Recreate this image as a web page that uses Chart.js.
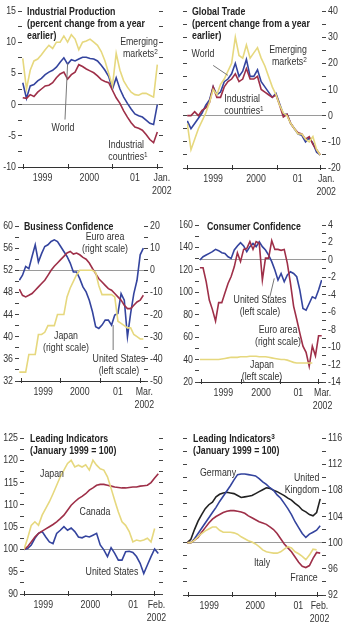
<!DOCTYPE html>
<html>
<head>
<meta charset="utf-8">
<script src="https://cdn.jsdelivr.net/npm/chart.js@4.4.1/dist/chart.umd.min.js"></script>
<style>
  body { margin: 0; width: 361px; height: 625px; position: relative; overflow: hidden; background: #fff;
         font-family: "Liberation Sans", Arial, sans-serif; color: #333; }
  canvas { position: absolute; }
  .title { position: absolute; font-weight: bold; font-size: 11px; line-height: 12px; color: #222; white-space: nowrap;
           transform: scaleX(0.8); transform-origin: left top; }
  .lbl { position: absolute; font-size: 11px; line-height: 12px; white-space: nowrap; text-align: center;
         transform: translate(-50%, -50%) scaleX(0.8); }
  .r { text-align: right; }
  .l { text-align: left; }
  sup { font-size: 8px; line-height: 0; vertical-align: 3px; }
</style>
</head>
<body>
<canvas id="ip" width="180" height="200" style="left:0;top:0"></canvas>
<canvas id="trade" width="181" height="200" style="left:180px;top:0"></canvas>
<canvas id="bc" width="180" height="215" style="left:0;top:200px"></canvas>
<canvas id="cc" width="181" height="215" style="left:180px;top:200px"></canvas>
<canvas id="li1" width="180" height="220" style="left:0;top:405px"></canvas>
<canvas id="li2" width="181" height="220" style="left:180px;top:405px"></canvas>

<div class="title" style="left:27px;top:5px">Industrial Production<br>(percent change from a year<br>earlier)</div>
<div class="title" style="left:192px;top:5px">Global Trade<br>(percent change from a year<br>earlier)</div>
<div class="title" style="left:24px;top:220px">Business Confidence</div>
<div class="title" style="left:207px;top:220px">Consumer Confidence</div>
<div class="title" style="left:30px;top:432px">Leading Indicators<br>(January 1999 = 100)</div>
<div class="title" style="left:193px;top:432px">Leading Indicators<sup>3</sup><br>(January 1999 = 100)</div>

<div class="lbl" style="left:63px;top:127px">World</div>
<div class="lbl r" style="left:139px;top:47px">Emerging<br>markets<sup>2</sup></div>
<div class="lbl l" style="left:128px;top:150px">Industrial<br>countries<sup>1</sup></div>

<div class="lbl" style="left:203px;top:53px">World</div>
<div class="lbl r" style="left:288px;top:55px">Emerging<br>markets<sup>2</sup></div>
<div class="lbl l" style="left:244px;top:104px">Industrial<br>countries<sup>1</sup></div>

<div class="lbl" style="left:105px;top:242px">Euro area<br>(right scale)</div>
<div class="lbl" style="left:66px;top:341px">Japan<br>(right scale)</div>
<div class="lbl" style="left:119px;top:364px">United States<br>(left scale)</div>

<div class="lbl" style="left:260px;top:305px">United States<br>(left scale)</div>
<div class="lbl" style="left:278px;top:335px">Euro area<br>(right scale)</div>
<div class="lbl" style="left:262px;top:370px">Japan<br>(left scale)</div>

<div class="lbl" style="left:52px;top:473px">Japan</div>
<div class="lbl" style="left:95px;top:511px">Canada</div>
<div class="lbl" style="left:112px;top:571px">United States</div>

<div class="lbl" style="left:218px;top:472px">Germany</div>
<div class="lbl r" style="left:302px;top:483px">United<br>Kingdom</div>
<div class="lbl" style="left:262px;top:562px">Italy</div>
<div class="lbl" style="left:304px;top:577px">France</div>

<script>
// monthly series, index 0 = first month shown
const xLabelsJan = ['1999', '2000', '01', ['Jan.', '2002']];
const xLabelsMar = ['1999', '2000', '01', ['Mar.', '2002']];
const xLabelsFeb = ['1999', '2000', '01', ['Feb.', '2002']];

// Industrial production, % change y/y (Jan 1999 - Jan 2002)
const ipEmerging = [7.4, 2.5, 5.5, 7, 7.3, 8, 8.8, 9.5, 9, 10, 10, 11, 10, 11.2, 10.5, 8.8, 10, 10.2, 10.5, 10, 9.5, 8.5, 7, 5, 3, 8.2, 5.5, 3.8, 2.8, 2, 1.6, 1.5, 1.8, 1.8, 1.5, 1.2, 6.4];
const ipWorld = [3.5, 1, 3, 3.2, 3.8, 4.2, 4.8, 5.2, 5.5, 6, 6.8, 7.5, 6.5, 7.2, 7, 7.3, 7.6, 7.6, 7.4, 7.3, 7, 6.3, 5.5, 4.5, 2.5, 4.3, 2.5, 1.2, 0.2, -0.7, -1.5, -1.8, -2, -2.5, -3, -3.2, 0];
const ipIndustrial = [1.1, 1, 1.6, 1.3, 2, 2.5, 3, 3.1, 3.5, 4.3, 4.9, 5.2, 4.1, 4.8, 5.2, 6.4, 6.1, 5.7, 5.4, 5.1, 4.6, 4, 3.7, 3.5, 2.3, 1.1, 0.2, -1, -2, -2.9, -3.6, -3.8, -4.1, -4.8, -5.6, -6.1, -4.4];

// Global trade, % change y/y
const tradeEmerging = [-3, -13, -9, -5, -2, 1, 5, 10, 8, 12, 14, 17, 20, 30, 23, 22, 27, 22, 24, 26, 22, 19, 15, 11, 8, 4, 1, 0, -3, -5, -7, -7, -9, -10, -8, -13, -15];
const tradeWorld = [-2, -5, -3, -1, 1, 4, 6, 11, 8, 9, 13, 14, 16, 20, 15, 17, 21.5, 15, 15, 17.5, 13, 11, 9, 7, 8.5, 4.5, 0.5, 0.5, -3, -5, -7, -7.5, -10, -8.5, -10.5, -14, -15];
const tradeIndustrial = [0, 0, 1.5, 0, 2, 3, 5, 11, 7, 7, 11, 13, 14, 16, 13, 14, 18, 14, 14, 15, 10, 9, 8, 7, 8, 4, -0.5, 0.5, -3, -5, -6.5, -7, -9, -8, -11, -13, -15];

// Business confidence (US left scale; euro area and Japan right scale)
const bcUS = [50.2, 51.1, 52.7, 52.3, 54.5, 56.6, 53.5, 55, 56.3, 56.6, 57.2, 57.5, 57.2, 56.3, 55.4, 54.5, 53.3, 51.7, 51.7, 50.5, 49, 48.1, 46.6, 44.5, 41.8, 41.5, 42.1, 43, 43, 42.1, 43.9, 44.2, 47.8, 46.6, 40, 44.2, 47.8, 50.2, 54.8, 56];
const bcEuro = [-8.5, -11.3, -12, -11.3, -10.5, -9, -7.5, -6, -4.5, -2.3, 0, 1.8, 3.3, 4.8, 6.3, 7.8, 8.5, 7.3, 7.8, 7, 5.8, 5, 3.3, 0.8, -1.5, -3.8, -5.3, -6.8, -8.3, -9, -10.5, -12, -13.5, -15.8, -17.3, -17.3, -15.8, -14.3, -13.5, -11.3];
const bcJapan = [-46, -46, -46, -38, -38, -38, -29, -29, -28, -25, -25, -25, -20, -20, -20, -12, -8, -5, -2, 0, 0, 0, 0, 0, -1, -7, -11, -11, -11, -11, -12, -23, -24, -25, -26, -26, -29, -30, -31, -31];

// Consumer confidence (US and Japan left scale; euro area right scale)
const ccUS = [128.8, 131.7, 133.2, 134.7, 136.2, 138.3, 137.1, 135.3, 134.7, 131.7, 130.2, 137.7, 141.3, 144.2, 141.3, 136.2, 140.7, 143.6, 140.7, 145.1, 140.7, 137.7, 133.2, 127.3, 119.8, 110.9, 116.8, 109.4, 115.4, 118.3, 116.8, 113.9, 102, 85.6, 84.1, 90, 96, 94.5, 102, 110.9];
const ccEuro = [-0.9, -0.9, -2.5, -4.6, -5.7, -7, -4.9, -4.9, -3.8, -2.7, -1.9, -0.8, 0.8, -0.2, 1.2, 1.3, 2.1, 1.2, 2.1, 1.9, -2.3, 0.2, 0.2, 2.2, 1.2, 1.2, 1.1, 1.2, -0.4, -2.7, -5.3, -6.8, -8.4, -9.9, -10.6, -12.2, -9.9, -11, -8.7, -8.7];
const ccJapan = [40, 40, 40, 40, 40, 40, 40, 40.5, 41, 41.5, 42, 42, 42, 42.5, 42.5, 42.5, 43, 43, 43, 42.5, 42.5, 42.5, 42, 41.5, 41, 40.5, 40, 40, 39.5, 38.5, 37.5, 37, 37, 37, 37, 37, 37, null, null, null];

// Leading indicators, January 1999 = 100 (Jan 1999 - Feb 2002)
const liJapan = [100, 102.5, 105.4, 106.2, 105.4, 107.7, 109.2, 110.7, 112.5, 114.4, 116.3, 117.8, 119.3, 120, 118.5, 118.9, 118.5, 119, 117.8, 120, 118.9, 118.1, 117.8, 116.3, 113.7, 111, 108.4, 106.2, 105.4, 104, 101.7, 102.1, 101.9, 102.1, 102.5, 101.7, 104.7, null];
const liCanada = [100, 100.6, 101.7, 102.8, 103.6, 104.1, 104.6, 105.1, 105.6, 106.2, 106.9, 107.7, 108.8, 109.9, 110.7, 111.4, 111.9, 112.5, 113.3, 113.8, 114.4, 114.6, 114.6, 114.4, 114.2, 114, 113.9, 113.8, 113.8, 113.9, 114, 114, 114.2, 114.3, 114.4, 115, 116, 117];
const liUS = [100, 100.2, 101, 102.5, 103.6, 104, 102.8, 101.7, 101.3, 103.6, 104.3, 105.1, 104.3, 104.8, 104, 102.8, 102.6, 103, 102.8, 103.2, 103.6, 101, 99.9, 98.4, 100.4, 99.1, 97.6, 97.6, 99.5, 99.6, 99.3, 98.4, 96.9, 94.6, 96.5, 98.4, 100.1, 99.1];

const liGermany = [100, 100, 100.6, 101.4, 102.2, 103, 103.8, 104.6, 105.4, 106.3, 107.1, 107.9, 108.7, 109.6, 110.4, 110.5, 110.5, 110.4, 110.3, 110.2, 109.8, 109.3, 108.9, 108.4, 108, 107.3, 106.8, 106, 105.2, 104.3, 103.2, 102.3, 101.4, 100.8, 101.3, 101.6, 101.9, 102.6];
const liUK = [100, 100.5, 102, 103.3, 104.3, 105.2, 105.8, 106.2, 107, 107.4, 107.6, 107.7, 107.6, 107.5, 107.2, 106.9, 107, 107.1, 107.2, 107.5, 107.8, 108.1, 108.4, 108.3, 108, 107.8, 107.5, 107.2, 106.8, 106.5, 106, 105.6, 105, 104.7, 104.3, 104.1, 104.6, 106.7];
const liFrance = [100, 100, 100.4, 100.8, 101.6, 102.3, 103, 103.6, 104, 104.3, 104.6, 104.8, 104.9, 104.9, 104.8, 104.7, 104.5, 104.1, 103.8, 103.5, 103.2, 103, 102.8, 102.4, 102, 101.4, 100.6, 99.8, 99.2, 98.6, 97.8, 97, 96.4, 96.2, 96.5, 97.6, 98.5, 98.4];
const liItaly = [100, 100, 100.4, 100.9, 101.4, 101.8, 102.1, 102.4, 102.4, 101.9, 101.6, 101.6, 101.6, 101.5, 101.3, 100.9, 100.6, 100.3, 100.1, 99.8, 99.4, 98.9, 98.6, 98.5, 98.4, 98.4, 98.6, 99, 99.4, 99.2, 98.6, 98.3, 97.9, 97.4, 98.1, 99, 98.9, null];

const YELLOW = '#e6d87e';
const BLUE = '#34449e';
const RED = '#9e2f48';
const BLACK = '#222';

Chart.defaults.font.family = '"Liberation Sans", Arial, sans-serif';
Chart.defaults.font.size = 11;
Chart.defaults.color = '#333';

// no condensed font is installed: squeeze each tick label horizontally
// (Chart.js translates + rotates the context before drawing every label)
const narrowText = {
  id: 'narrowText',
  beforeInit(chart) {
    const ctx = chart.ctx;
    const rotate = ctx.rotate;
    ctx.rotate = function (a) {
      rotate.call(this, a);
      this.scale(0.8, 1);
    };
  }
};

// year tick marks on the x axis + label leader lines
const marks = {
  id: 'marks',
  afterDatasetsDraw(chart, args, opts) {
    const {ctx, chartArea, scales} = chart;
    ctx.save();
    ctx.lineWidth = 1;
    ctx.strokeStyle = '#333';
    (opts.years || []).forEach(v => {
      const x = Math.round(scales.x.getPixelForValue(v)) + 0.5;
      ctx.beginPath();
      ctx.moveTo(x, chartArea.bottom + 2);
      ctx.lineTo(x, chartArea.bottom - 3);
      ctx.stroke();
    });
    ctx.strokeStyle = '#777';
    (opts.leaders || []).forEach(l => {
      const s = scales[l.axis];
      ctx.beginPath();
      ctx.moveTo(scales.x.getPixelForValue(l.from[0]), s.getPixelForValue(l.from[1]));
      ctx.lineTo(scales.x.getPixelForValue(l.to[0]), s.getPixelForValue(l.to[1]));
      ctx.stroke();
    });
    ctx.restore();
  }
};

function yAxis(pos, a) {
  return {
    type: 'linear',
    position: pos,
    min: a.min,
    max: a.max,
    afterFit: s => { s.width = a.width; },
    border: { display: false },
    grid: {
      drawTicks: true,
      tickLength: 4,
      tickColor: '#444',
      lineWidth: 1,
      color: c => (c.tick && c.tick.value === a.zero) ? '#9a9a9a' : 'rgba(0,0,0,0)'
    },
    ticks: {
      stepSize: a.step,
      autoSkip: false,
      padding: 2,
      callback: v => (a.every && Math.abs(v / a.every - Math.round(v / a.every)) < 1e-6) ? String(v) : ''
    }
  };
}

function panel(id, p) {
  return new Chart(document.getElementById(id), {
    type: 'line',
    data: {
      datasets: p.series.map(s => ({
        data: s.values.map((v, i) => ({ x: i, y: v })),
        yAxisID: s.axis || 'y',
        borderColor: s.color,
        borderWidth: 1.6,
        pointRadius: 0,
        tension: 0,
        fill: false
      }))
    },
    options: {
      responsive: false,
      animation: false,
      events: [],
      layout: { padding: { top: p.top, left: 0, right: 0, bottom: 0 } },
      plugins: {
        legend: { display: false },
        tooltip: { enabled: false },
        marks: { years: p.years, leaders: p.leaders || [] }
      },
      scales: {
        x: {
          type: 'linear',
          min: p.xMin,
          max: p.xMax,
          afterFit: s => { s.height = p.xHeight; },
          afterBuildTicks: s => { s.ticks = p.labelAt.map(v => ({ value: v })); },
          border: { display: true, color: '#333', width: 1 },
          grid: { drawOnChartArea: false, drawTicks: false },
          ticks: { autoSkip: false, maxRotation: 0, minRotation: 0, padding: 4, callback: (v, i) => p.labels[i] }
        },
        y: yAxis('left', p.left),
        y2: yAxis('right', p.right)
      }
    },
    plugins: [narrowText, marks]
  });
}

panel('ip', {
  top: 11, xHeight: 33, xMin: -0.2, xMax: 36.45,
  years: [0, 12, 24, 36], labelAt: [5.3, 17.8, 30, 37.2], labels: xLabelsJan,
  left: { min: -10, max: 15, step: 2.5, every: 5, width: 22, zero: 0 },
  right: { min: -10, max: 15, step: 2.5, width: 21 },
  leaders: [{ axis: 'y', from: [12, 6.6], to: [11.3, -2.4] }],
  series: [
    { values: ipEmerging, color: YELLOW },
    { values: ipIndustrial, color: RED },
    { values: ipWorld, color: BLUE }
  ]
});

panel('trade', {
  top: 11, xHeight: 32, xMin: -0.08, xMax: 36.46,
  years: [0, 12, 24.3, 36], labelAt: [7, 18.6, 29.9, 37.6], labels: xLabelsJan,
  left: { min: -20, max: 40, step: 5, width: 7 },
  right: { min: -20, max: 40, step: 5, every: 10, width: 39, zero: 0 },
  leaders: [{ axis: 'y2', from: [7, 19.2], to: [11, 15.4] }],
  series: [
    { values: tradeEmerging, color: YELLOW, axis: 'y2' },
    { values: tradeIndustrial, color: RED, axis: 'y2' },
    { values: tradeWorld, color: BLUE, axis: 'y2' }
  ]
});

panel('bc', {
  top: 26, xHeight: 34, xMin: -0.1, xMax: 39.2,
  years: [0.4, 12.8, 25.4, 38], labelAt: [7.5, 19, 31, 39.3], labels: xLabelsMar,
  left: { min: 32, max: 60, step: 2, every: 4, width: 19 },
  right: { min: -50, max: 20, step: 5, every: 10, width: 36, zero: 0 },
  leaders: [{ axis: 'y', from: [29.5, 42.1], to: [29.5, 37.6] }],
  series: [
    { values: bcJapan, color: YELLOW, axis: 'y2' },
    { values: bcEuro, color: RED, axis: 'y2' },
    { values: bcUS, color: BLUE }
  ]
});

panel('cc', {
  top: 25, xHeight: 33, xMin: -0.3, xMax: 39.1,
  years: [0.3, 13, 25.6, 37.8], labelAt: [7.5, 19.6, 31.5, 39.3], labels: xLabelsMar,
  left: { min: 20, max: 160, step: 10, every: 20, width: 19 },
  right: { min: -14, max: 4, step: 1, every: 2, width: 39, zero: 0 },
  leaders: [{ axis: 'y', from: [23.8, 112.4], to: [22.4, 96] }],
  series: [
    { values: ccJapan, color: YELLOW },
    { values: ccEuro, color: RED, axis: 'y2' },
    { values: ccUS, color: BLUE }
  ]
});

panel('li1', {
  top: 33, xHeight: 31, xMin: 0, xMax: 37.2,
  years: [0, 12.2, 24.1, 35.8], labelAt: [5.3, 18.3, 30.1, 36.5], labels: xLabelsFeb,
  left: { min: 90, max: 125, step: 2.5, every: 5, width: 24, zero: 100 },
  right: { min: 90, max: 125, step: 2.5, width: 21 },
  series: [
    { values: liJapan, color: YELLOW },
    { values: liCanada, color: RED },
    { values: liUS, color: BLUE }
  ]
});

panel('li2', {
  top: 33, xHeight: 30, xMin: -0.08, xMax: 37.5,
  years: [0.3, 12.4, 24.3, 36.2], labelAt: [6.1, 18.9, 30.9, 36.8], labels: xLabelsFeb,
  left: { min: 92, max: 116, step: 2, width: 7 },
  right: { min: 92, max: 116, step: 2, every: 4, width: 39, zero: 100 },
  series: [
    { values: liItaly, color: YELLOW, axis: 'y2' },
    { values: liFrance, color: RED, axis: 'y2' },
    { values: liGermany, color: BLUE, axis: 'y2' },
    { values: liUK, color: BLACK, axis: 'y2' }
  ]
});
</script>
</body>
</html>
